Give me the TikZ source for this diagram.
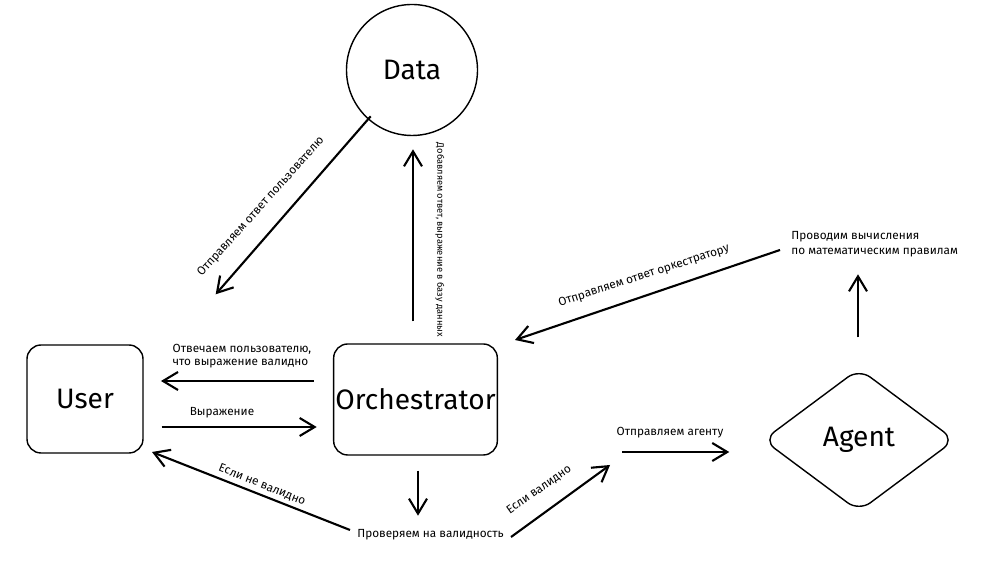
\documentclass[tikz,border=0pt]{standalone}
\usepackage{fontspec}
\setmainfont{Fira Sans}
\usetikzlibrary{shapes.geometric,arrows.meta}

\begin{document}
\begin{tikzpicture}[
    block/.style={rectangle, rounded corners=8pt, thick, draw, inner sep=1pt, font=\fontsize{16}{19}\selectfont},
    note/.style={inner sep=0pt, font=\fontsize{6.7}{7.3}\selectfont},
    arr/.style={-{Straight Barb[length=3mm,width=3.6mm]}, very thick}
]
    \useasboundingbox (0,0) rectangle (19.88,11.64);

    \node[circle, thick, draw, minimum size=2.62cm, font=\fontsize{16}{19}\selectfont] (data) at (8.24,10.24) {Data};
    \node[block, minimum width=2.32cm, minimum height=2.16cm] (user) at (1.70,3.66) {User};
    \node[block, minimum width=3.22cm, minimum height=2.22cm] (orch) at (8.31,3.65) {Orchestrator};
    \node[diamond, rounded corners=8pt, thick, draw, aspect=1.34, minimum width=3.84cm, minimum height=2.86cm, inner sep=0pt, font=\fontsize{16}{19}\selectfont] (agent) at (17.18,2.84) {Agent};

    \node[note, align=left, anchor=west, font=\fontsize{6.7}{8.6}\selectfont] (calc) at (15.82,6.75) {Проводим вычисления\\по математическим правилам};
    \node[note, anchor=west] (check) at (7.14,0.94) {Проверяем на валидность};

    \node[note, rotate=48] (l_reply) at (5.22,7.5) {Отправляем ответ пользователю};
    \node[note, rotate=-90, font=\fontsize{5.3}{6}\selectfont] (l_store) at (8.8,6.84) {Добавляем ответ, выражение в базу данных};
    \node[note, rotate=18] (l_answer) at (12.88,6.12) {Отправляем ответ оркестратору};
    \node[note, align=left] (l_valid_ok) at (4.84,4.52) {Отвечаем пользователю,\\что выражение валидно};
    \node[note] (l_expr) at (4.44,3.38) {Выражение};
    \node[note, rotate=-22] (l_invalid) at (5.24,1.94) {Если не валидно};
    \node[note, rotate=35] (l_valid) at (10.78,1.84) {Если валидно};
    \node[note] (l_send) at (13.4,2.98) {Отправляем агенту};

    \draw[arr] (data.south west) ++(0.11,0.01) -- ++(-3.1,-3.56);
    \draw[arr] (orch.north) ++(-0.05,0.44) -- ++(0,3.44);
    \draw[arr] (calc.west) ++(-0.22,-0.11) -- ++(-5.3,-1.8);
    \draw[arr] (agent.north) ++(-0.02,0.61) -- ++(0,1.26);
    \draw[arr] (orch.west) ++(-0.38,0.37) -- ++(-3.06,0);
    \draw[arr] (user.east) ++(0.36,-0.56) -- ++(3.1,0);
    \draw[arr] (orch.south) ++(0.05,-0.3) -- ++(0,-0.9);
    \draw[arr] (check.west) ++(-0.14,0.1) -- ++(-3.96,1.56);
    \draw[arr] (check.east) ++(0.14,-0.04) -- ++(1.98,1.44);
    \draw[arr] (agent.west) ++(-2.8,-0.24) -- ++(2.14,0);
\end{tikzpicture}
\end{document}
